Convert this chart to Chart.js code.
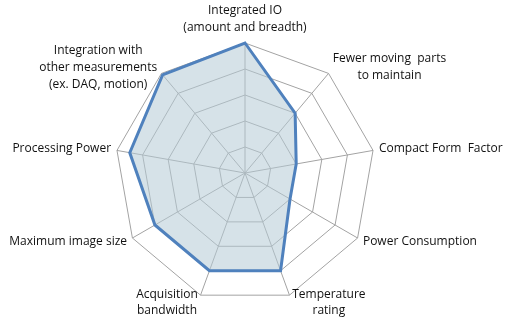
<!DOCTYPE html>
<html lang="en">
<head>
    <meta charset="UTF-8">
    <title>Radar chart</title>
    <script src="https://cdn.jsdelivr.net/npm/chart.js"></script>
    <style>
        html, body { margin: 0; padding: 0; background: white; }
        #wrap { width: 505px; height: 334px; }
    </style>
</head>
<body>
    <div id="wrap"><canvas id="radarCanvas"></canvas></div>
    <script>
        const categories = [
            ["Integrated IO", "(amount and breadth)"],
            ["Fewer moving  parts", "to maintain"],
            "Compact Form  Factor",
            "Power Consumption",
            ["Temperature", "rating"],
            ["Acquisition", "bandwidth"],
            "Maximum image size",
            "Processing Power",
            ["Integration with", "other measurements", "(ex. DAQ, motion)"]
        ];
        const scores = [5, 3, 2, 2, 4, 4, 4, 4.5, 4.93];

        const labelFont = { family: 'Open Sans', size: 12, lineHeight: 1.4 };

        // labels sit beside the outer vertex, lines centred within each block
        const spokeLabels = {
            id: 'spokeLabels',
            afterDraw(chart) {
                const scale = chart.scales.r;
                const ctx = chart.ctx;
                const lh = labelFont.size * labelFont.lineHeight;
                const pad = 5;
                ctx.save();
                ctx.font = labelFont.size + 'px "' + labelFont.family + '"';
                ctx.fillStyle = '#111';
                ctx.textAlign = 'center';
                ctx.textBaseline = 'middle';
                chart.data.labels.forEach((label, i) => {
                    const lines = [].concat(label);
                    const w = Math.max(...lines.map(l => ctx.measureText(l).width));
                    const h = lines.length * lh;
                    const a = scale.getIndexAngle(i);
                    const sin = Math.sin(a), cos = Math.cos(a);
                    const p = scale.getPointPosition(i, scale.drawingArea + pad);
                    let cx, cy;
                    if (Math.abs(sin) < 0.01) {
                        cx = p.x;
                        cy = cos > 0 ? p.y - h / 2 - 2 : p.y + h / 2 + 2;
                    } else {
                        cx = sin > 0 ? p.x + 1 + w / 2 : p.x - 1 - w / 2;
                        cy = p.y - cos * 3;
                    }
                    lines.forEach((line, j) => {
                        ctx.fillText(line, cx, cy - h / 2 + lh / 2 + j * lh);
                    });
                });
                ctx.restore();
            }
        };

        new Chart(document.getElementById("radarCanvas"), {
            type: 'radar',
            data: {
                labels: categories,
                datasets: [{
                    data: scores,
                    borderColor: '#4f81bd',
                    borderWidth: 3,
                    backgroundColor: 'rgba(180,202,214,0.55)',
                    pointRadius: 0,
                    fill: true
                }]
            },
            options: {
                responsive: true,
                maintainAspectRatio: false,
                animation: false,
                plugins: { legend: { display: false }, tooltip: { enabled: false } },
                scales: {
                    r: {
                        min: 0,
                        max: 5,
                        ticks: { stepSize: 1, display: false },
                        grid: { color: '#a3a3a3', lineWidth: 1 },
                        angleLines: { color: '#a3a3a3', lineWidth: 1 },
                        pointLabels: { display: false },
                        afterFit(scale) {
                            // plot area as in the original: centre a little left of middle
                            scale.xCenter = 245;
                            scale.yCenter = 173;
                            scale.drawingArea = 130;
                        }
                    }
                }
            },
            plugins: [spokeLabels]
        });
    </script>
</body>
</html>
